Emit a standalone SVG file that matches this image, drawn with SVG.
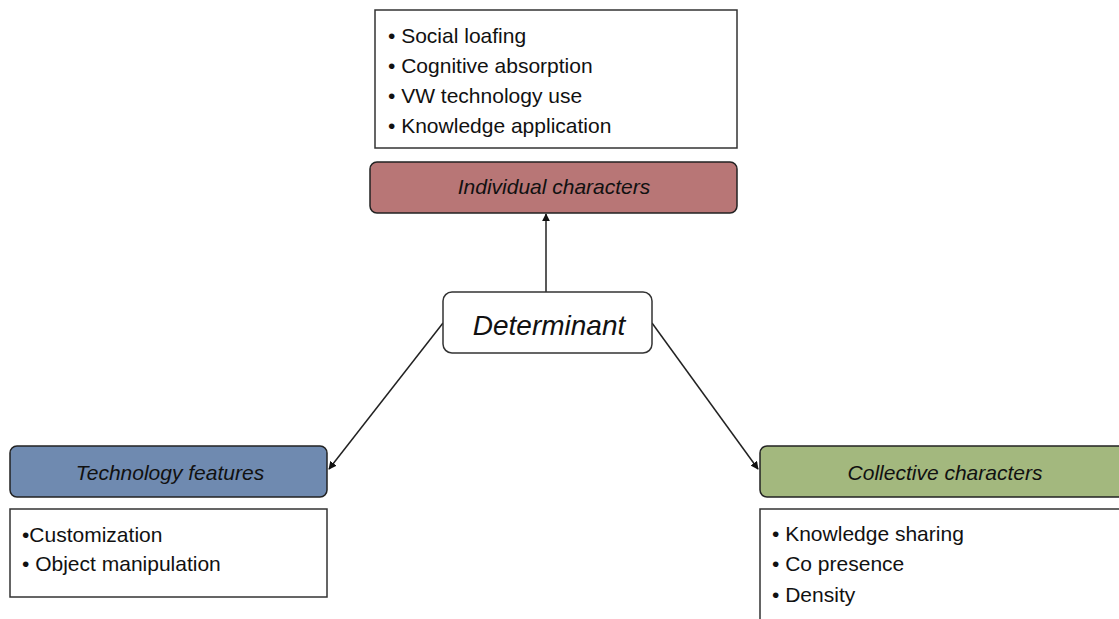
<svg xmlns="http://www.w3.org/2000/svg" width="1119" height="619" viewBox="0 0 1119 619">
<style>
.box{fill:#fff;stroke:#333;stroke-width:1.5}
.hdr{stroke:#222;stroke-width:1.5}
.t{font-family:"Liberation Sans",Arial,sans-serif;font-size:21px;fill:#111}
.it{font-family:"Liberation Sans",Arial,sans-serif;font-style:italic;fill:#111;text-anchor:middle}
.c{stroke:#222;stroke-width:1.5;fill:none;marker-end:url(#ah)}
</style>
<defs>
<marker id="ah" viewBox="0 0 10 10" refX="9" refY="5" markerWidth="8" markerHeight="8" orient="auto" markerUnits="userSpaceOnUse">
<path d="M0,0 L10,5 L0,10 z" fill="#111"/>
</marker>
</defs>
<rect width="1119" height="619" fill="#fff"/>
<g id="connectors">
<line class="c" x1="546" y1="292" x2="546" y2="214"/>
<line class="c" x1="443" y1="323" x2="329" y2="469"/>
<line class="c" x1="652" y1="323" x2="758" y2="469"/>
</g>
<g id="individual-list">
<rect class="box" x="375" y="10" width="362" height="138"/>
<text class="t" x="388" y="43">• Social loafing</text>
<text class="t" x="388" y="73">• Cognitive absorption</text>
<text class="t" x="388" y="103">• VW technology use</text>
<text class="t" x="388" y="133">• Knowledge application</text>
</g>
<g id="individual">
<rect class="hdr" x="370" y="162" width="367" height="51" rx="7" fill="#b87676"/>
<text class="it" x="554" y="194" font-size="21">Individual characters</text>
</g>
<g id="determinant">
<rect class="box" x="443" y="292" width="209" height="61" rx="9"/>
<text class="it" x="549" y="335" font-size="28">Determinant</text>
</g>
<g id="technology">
<rect class="hdr" x="10" y="446" width="317" height="51" rx="7" fill="#6f8ab0"/>
<text class="it" x="170" y="480" font-size="21">Technology features</text>
</g>
<g id="technology-list">
<rect class="box" x="10" y="509" width="317" height="88"/>
<text class="t" x="22" y="542">•Customization</text>
<text class="t" x="22" y="571">• Object manipulation</text>
</g>
<g id="collective">
<rect class="hdr" x="760" y="446" width="365" height="51" rx="7" fill="#a3b87e"/>
<text class="it" x="945" y="480" font-size="21">Collective characters</text>
</g>
<g id="collective-list">
<rect class="box" x="760" y="509" width="370" height="120"/>
<text class="t" x="772" y="541">• Knowledge sharing</text>
<text class="t" x="772" y="571">• Co presence</text>
<text class="t" x="772" y="602">• Density</text>
</g>
</svg>
